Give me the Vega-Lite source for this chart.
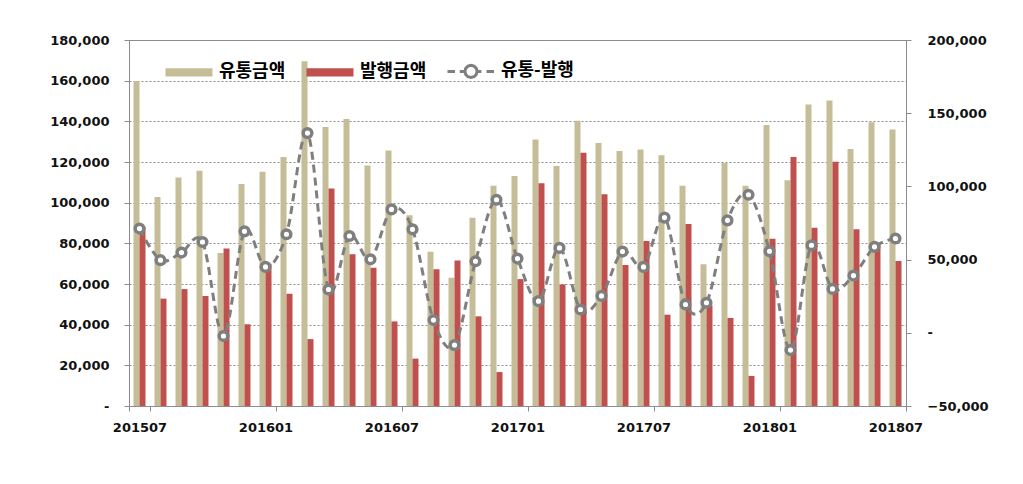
{
  "$schema": "https://vega.github.io/schema/vega-lite/v6.json",
  "width": 777,
  "height": 366,
  "autosize": "none",
  "padding": {"left": 129, "top": 40, "right": 117, "bottom": 78},
  "background": "white",
  "config": {
    "view": {"stroke": "#8c8c8c", "strokeWidth": 1},
    "axis": {
      "labelFont": "DejaVu Sans",
      "labelFontWeight": "bold",
      "labelFontSize": 13,
      "labelColor": "#111111",
      "domainColor": "#8c8c8c",
      "tickColor": "#8c8c8c",
      "tickSize": 5,
      "title": null
    }
  },
  "data": {
    "values": [
      {"month": "201507", "유통금액": 159800, "발행금액": 88000, "diff": 71200},
      {"month": "201508", "유통금액": 102800, "발행금액": 52800, "diff": 49600},
      {"month": "201509", "유통금액": 112400, "발행금액": 57500, "diff": 54800},
      {"month": "201510", "유통금액": 115700, "발행금액": 54100, "diff": 62000},
      {"month": "201511", "유통금액": 75200, "발행금액": 77400, "diff": -2200},
      {"month": "201512", "유통금액": 109200, "발행금액": 40200, "diff": 69300},
      {"month": "201601", "유통금액": 115200, "발행금액": 70000, "diff": 45000},
      {"month": "201602", "유통금액": 122400, "발행금액": 55200, "diff": 67300},
      {"month": "201603", "유통금액": 169600, "발행금액": 32900, "diff": 136400},
      {"month": "201604", "유통금액": 137200, "발행금액": 107000, "diff": 29600},
      {"month": "201605", "유통금액": 141100, "발행금액": 74600, "diff": 66100},
      {"month": "201606", "유통금액": 118300, "발행금액": 68000, "diff": 50200},
      {"month": "201607", "유통금액": 125700, "발행금액": 41600, "diff": 84300},
      {"month": "201608", "유통금액": 93800, "발행금액": 23300, "diff": 70700},
      {"month": "201609", "유통금액": 75900, "발행금액": 67200, "diff": 8700},
      {"month": "201610", "유통금액": 63100, "발행금액": 71600, "diff": -8400},
      {"month": "201611", "유통금액": 92600, "발행금액": 44100, "diff": 48900},
      {"month": "201612", "유통금액": 108300, "발행금액": 16700, "diff": 90900},
      {"month": "201701", "유통금액": 113100, "발행금액": 62400, "diff": 50700},
      {"month": "201702", "유통금액": 131100, "발행금액": 109600, "diff": 21600},
      {"month": "201703", "유통금액": 118000, "발행금액": 59800, "diff": 58000},
      {"month": "201704", "유통금액": 140300, "발행금액": 124600, "diff": 15900},
      {"month": "201705", "유통금액": 129300, "발행금액": 104100, "diff": 25200},
      {"month": "201706", "유통금액": 125400, "발행금액": 69300, "diff": 55500},
      {"month": "201707", "유통금액": 126200, "발행금액": 81100, "diff": 45000},
      {"month": "201708", "유통금액": 123300, "발행금액": 44900, "diff": 78700},
      {"month": "201709", "유통금액": 108300, "발행금액": 89500, "diff": 19300},
      {"month": "201710", "유통금액": 69700, "발행금액": 49500, "diff": 20500},
      {"month": "201711", "유통금액": 119500, "발행금액": 43300, "diff": 76800},
      {"month": "201712", "유통금액": 108300, "발행금액": 14800, "diff": 94300},
      {"month": "201801", "유통금액": 138200, "발행금액": 82300, "diff": 55700},
      {"month": "201802", "유통금액": 111000, "발행금액": 122400, "diff": -11800},
      {"month": "201803", "유통금액": 148300, "발행금액": 87700, "diff": 59800},
      {"month": "201804", "유통금액": 150300, "발행금액": 120100, "diff": 30000},
      {"month": "201805", "유통금액": 126400, "발행금액": 86900, "diff": 39100},
      {"month": "201806", "유통금액": 139600, "발행금액": 80000, "diff": 58700},
      {"month": "201807", "유통금액": 136000, "발행금액": 71300, "diff": 64400}
    ]
  },
  "layer": [
    {
      "transform": [{"fold": ["유통금액", "발행금액"], "as": ["series", "value"]}],
      "mark": {"type": "bar"},
      "encoding": {
        "x": {
          "field": "month",
          "type": "nominal",
          "scale": {"paddingInner": 0, "paddingOuter": 0},
          "axis": {
            "values": ["201507", "201601", "201607", "201701", "201707", "201801", "201807"],
            "tickBand": "extent",
            "labelAngle": 0,
            "labelPadding": 10,
            "grid": false
          }
        },
        "xOffset": {
          "field": "series",
          "type": "nominal",
          "sort": ["유통금액", "발행금액"],
          "scale": {"paddingInner": 0, "paddingOuter": 0.75}
        },
        "y": {
          "field": "value",
          "type": "quantitative",
          "scale": {"domain": [0, 180000], "nice": false},
          "axis": {
            "values": [0, 20000, 40000, 60000, 80000, 100000, 120000, 140000, 160000, 180000],
            "labelExpr": "datum.value == 0 ? '-' : format(datum.value, ',')",
            "labelPadding": 15,
            "grid": true,
            "gridDash": [2, 2],
            "gridColor": "#8c8c8c",
            "gridWidth": 1
          }
        },
        "color": {
          "field": "series",
          "type": "nominal",
          "scale": {
            "domain": ["유통금액", "발행금액", "유통-발행"],
            "range": ["#c4bd97", "#c0504d", "#ffffff"]
          },
          "legend": {
            "orient": "none",
            "legendX": 35,
            "legendY": 6,
            "direction": "horizontal",
            "title": null,
            "padding": 0,
            "labelFont": "Noto Sans CJK KR",
            "labelFontSize": 18,
            "labelFontWeight": "bold",
            "labelColor": "#000000",
            "labelOffset": 5,
            "columnPadding": 14,
            "symbolSize": 2209,
            "symbolStrokeWidth": 3,
            "encode": {
              "symbols": {
                "update": {
                  "shape": {"signal": "datum.value === '유통-발행' ? 'M-1,0L-0.68,0M-0.48,0L-0.26,0M0.26,0L0.44,0M0.66,0L0.98,0M0.26,0L0.225,0.13L0.13,0.225L0,0.26L-0.13,0.225L-0.225,0.13L-0.26,0L-0.225,-0.13L-0.13,-0.225L0,-0.26L0.13,-0.225L0.225,-0.13Z' : 'M-1,-0.18L1,-0.18L1,0.18L-1,0.18Z'"},
                  "size": {"value": 2209},
                  "fill": {"signal": "datum.value === '유통금액' ? '#c4bd97' : datum.value === '발행금액' ? '#c0504d' : '#ffffff'"},
                  "stroke": {"signal": "datum.value === '유통-발행' ? '#7f7f7f' : 'transparent'"},
                  "strokeWidth": {"value": 3},
                  "opacity": {"value": 1}
                }
              }
            }
          }
        }
      }
    },
    {
      "encoding": {
        "x": {"field": "month", "type": "nominal"},
        "y": {
          "field": "diff",
          "type": "quantitative",
          "scale": {"domain": [-50000, 200000], "nice": false},
          "axis": {
            "orient": "right",
            "values": [-50000, 0, 50000, 100000, 150000, 200000],
            "labelExpr": "datum.value == 0 ? '-' : format(datum.value, ',')",
            "labelPadding": 16,
            "grid": false
          }
        }
      },
      "layer": [
        {
          "mark": {
            "type": "line",
            "interpolate": "cardinal",
            "stroke": "#7f7f7f",
            "strokeWidth": 3,
            "strokeDash": [8, 5]
          }
        },
        {
          "mark": {
            "type": "point",
            "shape": "circle",
            "filled": false,
            "fill": "#ffffff",
            "fillOpacity": 1,
            "stroke": "#7f7f7f",
            "strokeWidth": 3.5,
            "opacity": 1,
            "size": 75
          }
        }
      ]
    }
  ],
  "resolve": {"scale": {"y": "independent"}}
}
